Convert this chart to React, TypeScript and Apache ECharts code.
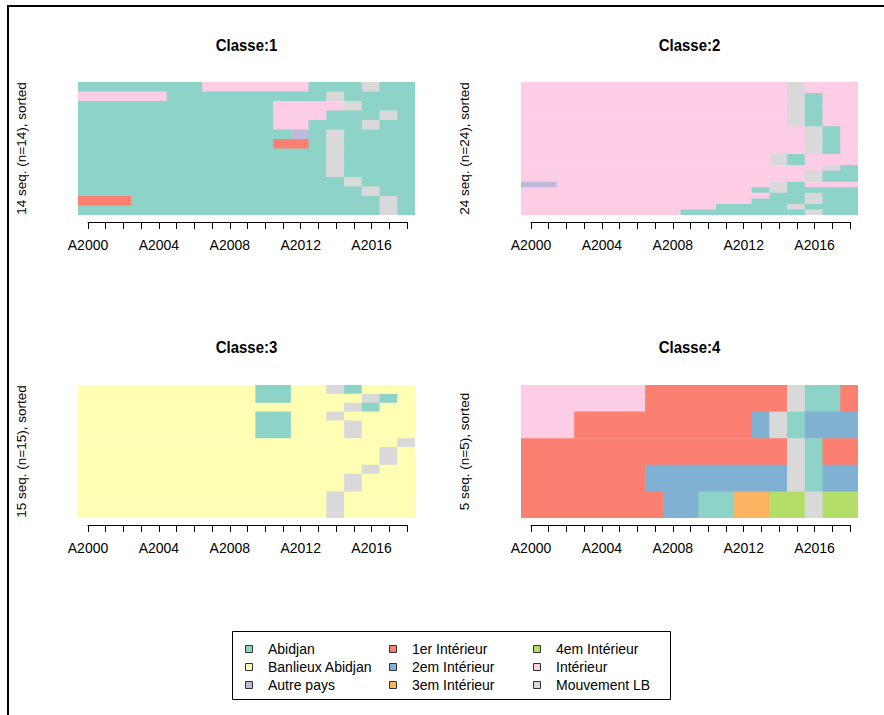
import React, { useEffect, useRef } from "react";
import * as echarts from "echarts";

// ---- data ----
const years = [
  "A2000", "A2001", "A2002", "A2003", "A2004", "A2005", "A2006", "A2007", "A2008", "A2009",
  "A2010", "A2011", "A2012", "A2013", "A2014", "A2015", "A2016", "A2017", "A2018",
];

const stateCodes = ["A", "B", "P", "F", "S", "T", "Q", "I", "M"];
const stateNames = [
  "Abidjan", "Banlieux Abidjan", "Autre pays",
  "1er Intérieur", "2em Intérieur", "3em Intérieur",
  "4em Intérieur", "Intérieur", "Mouvement LB",
];
const stateColors = [
  "#8DD3C7", "#FFFFB3", "#BEBADA",
  "#FB8072", "#80B1D3", "#FDB462",
  "#B3DE69", "#FCCDE5", "#D9D9D9",
];

const classTitles = ["Classe:1", "Classe:2", "Classe:3", "Classe:4"];
const yNames = [
  "14 seq. (n=14), sorted",
  "24 seq. (n=24), sorted",
  "15 seq. (n=15), sorted",
  "5 seq. (n=5), sorted",
];

// sequences, top row first, run-length coded (state code + number of years)
const classe1 = [
  "A7 I6 A3 M1 A2",
  "I5 A9 M1 A4",
  "A11 I4 M1 A3",
  "A11 I3 A3 M1 A1",
  "A11 I2 A3 M1 A2",
  "A12 P1 A1 M1 A4",
  "A11 F2 A1 M1 A4",
  "A14 M1 A4",
  "A14 M1 A4",
  "A14 M1 A4",
  "A15 M1 A3",
  "A16 M1 A2",
  "F3 A14 M1 A1",
  "A17 M1 A1",
];
const classe2 = [
  "I15 M1 I3",
  "I15 M1 I3",
  "I15 M1 A1 I2",
  "I15 M1 A1 I2",
  "I15 M1 A1 I2",
  "I15 M1 A1 I2",
  "I15 M1 A1 I2",
  "I15 M1 A1 I2",
  "I16 M1 A1 I1",
  "I16 M1 A1 I1",
  "I16 M1 A1 I1",
  "I16 M1 A1 I1",
  "I16 M1 A1 I1",
  "I14 M1 A1 I3",
  "I14 M1 A1 I3",
  "I17 M1 A1",
  "I16 M1 A2",
  "I16 M1 A2",
  "P2 I12 M1 A1 I3",
  "I13 A1 M1 A4",
  "I14 A2 M1 A2",
  "I13 A3 M1 A2",
  "I11 A4 M1 A3",
  "I9 A7 M1 A2",
];
const classe3 = [
  "B10 A2 B2 M1 A1 B3",
  "B10 A2 B4 M1 A1 B1",
  "B15 M1 A1 B2",
  "B10 A2 B2 M1 B4",
  "B10 A2 B3 M1 B3",
  "B10 A2 B3 M1 B3",
  "B18 M1",
  "B17 M1 B1",
  "B17 M1 B1",
  "B16 M1 B2",
  "B15 M1 B3",
  "B15 M1 B3",
  "B14 M1 B4",
  "B14 M1 B4",
  "B14 M1 B4",
];
const classe4 = [
  "I7 F8 M1 A2 F1",
  "I3 F10 S1 M1 A1 S3",
  "F15 M1 A1 F2",
  "F7 S8 M1 A1 S2",
  "F8 S2 A2 T2 Q2 M1 Q2",
];
const classes = [classe1, classe2, classe3, classe4];

// ---- layout ----
const FONT = "'Liberation Sans', Arial, sans-serif";
const cellGrids = [
  { left: 78, top: 82, width: 337, height: 133 },
  { left: 521, top: 82, width: 337, height: 133 },
  { left: 78, top: 385, width: 337, height: 133 },
  { left: 521, top: 385, width: 337, height: 133 },
];
const axisGrids = [
  { left: 88, top: 218, width: 319, height: 4 },
  { left: 531, top: 218, width: 319, height: 4 },
  { left: 88, top: 521, width: 319, height: 4 },
  { left: 531, top: 521, width: 319, height: 4 },
];
const titlePos = [
  [246.5, 45],
  [689.5, 45],
  [246.5, 347],
  [689.5, 347],
];

function toRects(rows: string[]) {
  const n = rows.length;
  const out: number[][] = [];
  rows.forEach((row, r) => {
    let c = 0;
    const re = /([A-Z])(\d+)/g;
    let m: RegExpExecArray | null;
    while ((m = re.exec(row)) !== null) {
      const s = stateCodes.indexOf(m[1]);
      const len = parseInt(m[2], 10);
      out.push([c, c + len, n - 1 - r, s]);
      c += len;
    }
  });
  return out;
}

export default function App() {
  const ref = useRef<HTMLDivElement>(null);
  useEffect(() => {
    if (!ref.current) return;
    const chart = echarts.init(ref.current, null, { renderer: "svg" });

    const grid: any[] = [];
    const xAxis: any[] = [];
    const yAxis: any[] = [];
    const series: any[] = [];

    classes.forEach((rows, i) => {
      const n = rows.length;
      grid.push({ ...cellGrids[i], containLabel: false });
      xAxis.push({ gridIndex: i, type: "value", min: 0, max: years.length, show: false });
      yAxis.push({
        gridIndex: i,
        type: "value",
        min: 0,
        max: n,
        axisLine: { show: false },
        axisTick: { show: false },
        axisLabel: { show: false },
        splitLine: { show: false },
        name: yNames[i],
        nameLocation: "middle",
        nameGap: 50,
        nameRotate: 90,
        nameTextStyle: { color: "#000", fontSize: 13.5, fontFamily: FONT },
      });
      series.push({
        type: "custom",
        xAxisIndex: i,
        yAxisIndex: i,
        data: toRects(rows),
        encode: { x: [0, 1], y: 2 },
        renderItem: (params: any, api: any) => {
          const x0 = api.value(0);
          const x1 = api.value(1);
          const y = api.value(2);
          const s = api.value(3);
          const p0 = api.coord([x0, y + 1]);
          const p1 = api.coord([x1, y]);
          const padW = x1 < years.length ? 0.6 : 0;
          const padH = y > 0 ? 0.6 : 0;
          return {
            type: "rect",
            shape: {
              x: p0[0],
              y: p0[1],
              width: p1[0] - p0[0] + padW,
              height: p1[1] - p0[1] + padH,
            },
            style: { fill: stateColors[s] },
          };
        },
      });
    });

    axisGrids.forEach((g, i) => {
      const gi = 4 + i;
      grid.push({ ...g, containLabel: false });
      xAxis.push({
        gridIndex: gi,
        type: "category",
        data: years,
        boundaryGap: false,
        position: "bottom",
        axisLine: { show: true, lineStyle: { color: "#000", width: 1 } },
        axisTick: { show: true, length: 7, interval: 0, lineStyle: { color: "#000", width: 1 } },
        axisLabel: { interval: 3, margin: 16, color: "#000", fontSize: 14, fontFamily: FONT },
        splitLine: { show: false },
      });
      yAxis.push({ gridIndex: gi, type: "value", show: false });
    });

    const graphic: any[] = [];
    classTitles.forEach((t, i) => {
      graphic.push({
        type: "text",
        x: titlePos[i][0],
        y: titlePos[i][1],
        scaleX: 0.88,
        style: {
          text: t,
          font: `bold 17px ${FONT}`,
          fill: "#000",
          textAlign: "center",
          textVerticalAlign: "middle",
        },
      });
    });
    // page frame
    graphic.push({ type: "line", shape: { x1: 8, y1: 6, x2: 884, y2: 6 }, style: { stroke: "#000", lineWidth: 2 } });
    graphic.push({ type: "line", shape: { x1: 8, y1: 5, x2: 8, y2: 715 }, style: { stroke: "#000", lineWidth: 2 } });
    // legend box
    graphic.push({
      type: "rect",
      shape: { x: 232.5, y: 631.5, width: 438, height: 68 },
      style: { fill: "#fff", stroke: "#000", lineWidth: 1 },
    });
    stateNames.forEach((name, i) => {
      const col = Math.floor(i / 3);
      const row = i % 3;
      const cx = 245 + col * 144;
      const cy = 649 + row * 18;
      graphic.push({
        type: "rect",
        shape: { x: cx + 0.5, y: cy - 3.5, width: 7, height: 7 },
        style: { fill: stateColors[i], stroke: "#333", lineWidth: 1 },
        z: 101,
      });
      graphic.push({
        type: "text",
        x: cx + 23,
        y: cy,
        style: {
          text: name,
          font: `14px ${FONT}`,
          fill: "#000",
          textAlign: "left",
          textVerticalAlign: "middle",
        },
        z: 101,
      });
    });

    chart.setOption({
      animation: false,
      backgroundColor: "#fff",
      grid,
      xAxis,
      yAxis,
      series,
      graphic,
    });
    return () => chart.dispose();
  }, []);

  return (
    <div
      ref={ref}
      style={{ position: "fixed", left: 0, top: 0, width: 884, height: 715 }}
    />
  );
}
